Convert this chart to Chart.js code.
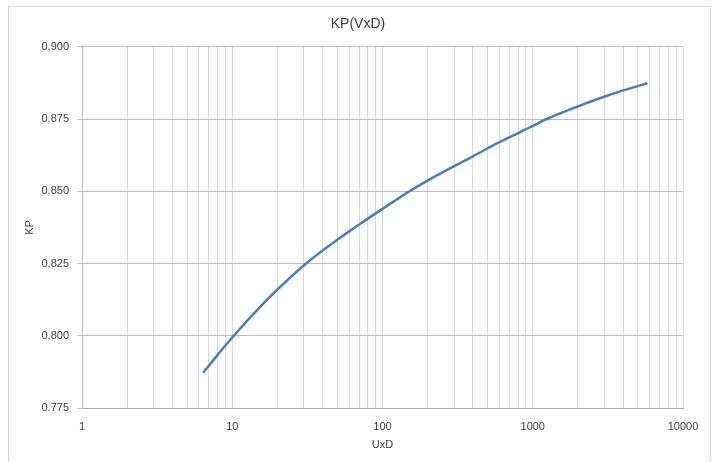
<!DOCTYPE html>
<html>
<head>
<meta charset="utf-8">
<script src="https://cdn.jsdelivr.net/npm/chart.js@4"></script>
<style>
html,body{margin:0;padding:0;background:#fff;}
#wrap{position:relative;width:716px;height:462px;}
</style>
</head>
<body>
<div id="wrap"><canvas id="c" width="716" height="462"></canvas></div>
<script>
const chartTitle = 'KP(VxD)';
const xAxisTitle = 'UxD';
const yAxisTitle = 'KP';
const uxd = [6.4, 8, 10, 15, 20, 31, 50, 70, 100, 150, 240, 400, 600, 1000, 1250, 2000, 2800, 4000, 5800];
const kp  = [0.7872, 0.7934, 0.7994, 0.8095, 0.8160, 0.8250, 0.8332, 0.8385, 0.8439, 0.8499, 0.8560, 0.8621, 0.8670, 0.8726, 0.8751, 0.8794, 0.8822, 0.8849, 0.8874];
const xLabelValues = [1, 10, 100, 1000, 10000];
const xGridValues = [1,2,3,4,5,6,7,8,9,10,20,30,40,50,60,70,80,90,100,200,300,400,500,600,700,800,900,1000,2000,3000,4000,5000,6000,7000,8000,9000,10000];
const yTickValues = [0.775, 0.800, 0.825, 0.850, 0.875, 0.900];

const points = uxd.map((x, i) => ({x: x, y: kp[i]}));

const frame = {
  id: 'frame',
  beforeDraw(chart) {
    const ctx = chart.ctx;
    ctx.save();
    ctx.fillStyle = '#ffffff';
    ctx.fillRect(0, 0, chart.width, chart.height);
    ctx.strokeStyle = '#d9d9d9';
    ctx.lineWidth = 1;
    ctx.strokeRect(8.5, 6.5, 702, 470);
    ctx.restore();
  }
};

const font = 'Liberation Sans';

new Chart(document.getElementById('c'), {
  type: 'scatter',
  data: {
    datasets: [{
      data: points,
      showLine: true,
      borderColor: '#4a7ebb',
      borderWidth: 2.5,
      pointRadius: 0,
      cubicInterpolationMode: 'monotone',
      fill: false,
      yAxisID: 'y'
    }]
  },
  options: {
    responsive: false,
    animation: false,
    layout: {padding: {left: 0, right: 0, top: 0, bottom: 0}},
    plugins: {
      legend: {display: false},
      tooltip: {enabled: false},
      title: {
        display: true,
        text: chartTitle,
        color: '#404040',
        font: {family: font, size: 14, weight: 'normal', lineHeight: 1.2},
        padding: {top: 16, bottom: 14}
      }
    },
    scales: {
      x: {
        type: 'logarithmic',
        min: 1,
        max: 10000,
        afterBuildTicks(scale) {
          scale.ticks = xGridValues.map(v => ({value: v, major: xLabelValues.includes(v)}));
        },
        afterFit(scale) { scale.height = 54; },
        ticks: {
          autoSkip: false,
          maxRotation: 0,
          minRotation: 0,
          padding: 12,
          color: '#404040',
          font: {family: font, size: 11},
          callback: (v) => xLabelValues.includes(v) ? String(v) : ''
        },
        grid: {color: '#d9d9d9', drawTicks: false, lineWidth: 1},
        border: {color: '#a6a6a6', width: 1},
        title: {
          display: true,
          text: xAxisTitle,
          color: '#404040',
          font: {family: font, size: 11},
          padding: {top: 4, bottom: 10}
        }
      },
      y: {
        type: 'linear',
        position: 'left',
        min: 0.775,
        max: 0.9,
        afterBuildTicks(scale) {
          scale.ticks = yTickValues.map(v => ({value: v}));
        },
        afterFit(scale) { scale.width = 82; },
        ticks: {
          padding: 8,
          color: '#404040',
          font: {family: font, size: 11},
          callback: (v) => Number(v).toFixed(3)
        },
        grid: {color: '#bcbcbc', tickColor: '#bcbcbc', tickLength: 5, lineWidth: 1},
        border: {color: '#bcbcbc', width: 1},
        title: {
          display: true,
          text: yAxisTitle,
          color: '#404040',
          font: {family: font, size: 11},
          padding: {top: 23, bottom: 0}
        }
      },
      spacer: {
        type: 'linear',
        position: 'right',
        display: true,
        min: 0,
        max: 1,
        afterFit(scale) { scale.width = 33; },
        ticks: {display: false},
        grid: {display: false, drawTicks: false},
        border: {display: false},
        title: {display: false}
      }
    }
  },
  plugins: [frame]
});
</script>
</body>
</html>
